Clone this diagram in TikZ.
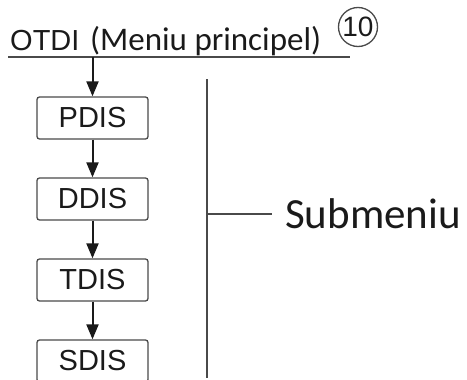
\documentclass[tikz,border=0pt]{standalone}
\usepackage{fontspec}
\usetikzlibrary{arrows.meta}
\newfontfamily\arialf{Liberation Sans}
\newfontfamily\calibrif{Carlito}
\definecolor{ink}{HTML}{1A1A1A}
\definecolor{edge}{HTML}{4A4A4A}
\begin{document}
\begin{tikzpicture}[x=1pt,y=-1pt,
  menubox/.style={draw=edge, line width=1.3pt, rounded corners=2.5pt, minimum width=111pt, minimum height=42pt, inner sep=0pt, text=ink, font=\arialf\fontsize{29}{31}\selectfont},
  flow/.style={draw=ink, line width=2pt, -{Triangle[length=15pt,width=12pt]}},
  bar/.style={draw=edge, line width=2pt}]
\useasboundingbox (0,0) rectangle (467,380);
\node[anchor=base west, inner sep=0pt, text=ink, font=\arialf\fontsize{29}{31}\selectfont] (otdi) at (10,50) {OTDI};
\node[anchor=base west, inner sep=0pt, text=ink, font=\calibrif\fontsize{33}{36}\selectfont] (meniu) at (90,50) {(Meniu principel)};
\node[inner sep=0pt, text=ink, font=\arialf\fontsize{28}{30}\selectfont] (ten) at (358,27) {10};
\draw[edge, line width=1.3pt] (ten.center) circle[radius=19.5pt];
\coordinate (ulL) at (8,57);
\coordinate (ulR) at (350,57);
\draw[bar] (ulL) -- (ulR);
\coordinate (ulA) at (92.5,57);
\node[menubox] (pdis) at (92.5,118) {PDIS};
\node[menubox] (ddis) at (92.5,199) {DDIS};
\node[menubox] (tdis) at (92.5,280) {TDIS};
\node[menubox] (sdis) at (92.5,361) {SDIS};
\draw[flow] (ulA) -- (pdis.north);
\draw[flow] (pdis) -- (ddis);
\draw[flow] (ddis) -- (tdis);
\draw[flow] (tdis) -- (sdis);
\coordinate (vt) at (207,79);
\coordinate (vb) at (207,378);
\coordinate (hm) at (207,214);
\coordinate (he) at (272,214);
\draw[bar] (vt) -- (vb);
\draw[bar] (hm) -- (he);
\node[anchor=base west, inner sep=0pt, text=ink, font=\calibrif\fontsize{43}{45}\selectfont] (sub) at (285,228) {Submeniu};
\end{tikzpicture}
\end{document}
